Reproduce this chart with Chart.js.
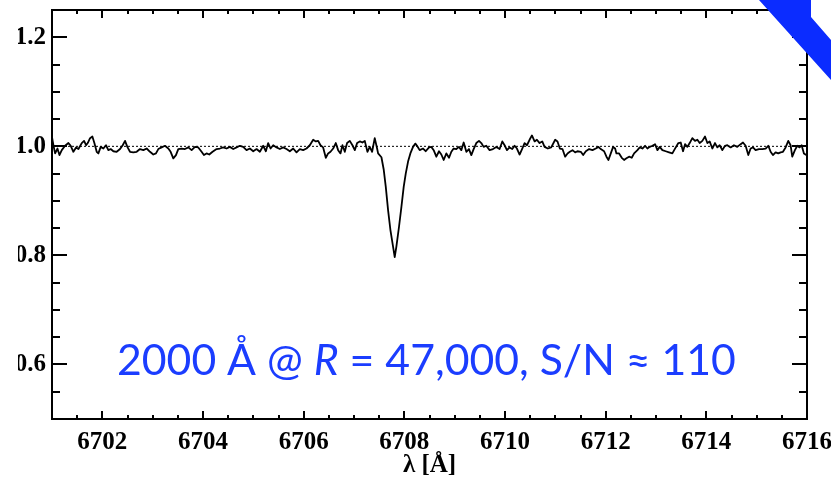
<!DOCTYPE html>
<html>
<head>
<meta charset="utf-8">
<script src="https://cdn.jsdelivr.net/npm/chart.js@4.4.1/dist/chart.umd.min.js"></script>
<style>
  html, body { margin: 0; padding: 0; background: #fff; }
  #wrap { position: relative; width: 831px; height: 482px; overflow: hidden; }
  #c { position: absolute; left: 0; top: 0; }
  #band {
    position: absolute; left: 0; top: 0; width: 831px; height: 482px;
    background: #0b2cff;
    clip-path: polygon(759px 0, 811px 0, 811px 17px, 831px 40px, 831px 80px);
  }
</style>
</head>
<body>
<div id="wrap">
  <canvas id="c" width="831" height="482"></canvas>
  <div id="band"></div>
</div>
<script>
// Li I 6708 region, normalised flux
const wavelength = [
  6701.000, 6701.028, 6701.062, 6701.108, 6701.148, 6701.194, 6701.260, 6701.326, 6701.372, 6701.425,
  6701.478, 6701.525, 6701.591, 6701.637, 6701.677, 6701.710, 6701.756, 6701.802, 6701.842, 6701.888,
  6701.921, 6701.968, 6702.021, 6702.073, 6702.120, 6702.166, 6702.219, 6702.285, 6702.352, 6702.405,
  6702.451, 6702.497, 6702.550, 6702.616, 6702.682, 6702.748, 6702.815, 6702.881, 6702.947, 6703.013,
  6703.066, 6703.112, 6703.178, 6703.245, 6703.311, 6703.357, 6703.410, 6703.463, 6703.509, 6703.575,
  6703.641, 6703.708, 6703.774, 6703.840, 6703.906, 6703.972, 6704.018, 6704.071, 6704.124, 6704.190,
  6704.270, 6704.336, 6704.402, 6704.468, 6704.534, 6704.601, 6704.667, 6704.733, 6704.799, 6704.865,
  6704.931, 6704.998, 6705.064, 6705.130, 6705.196, 6705.249, 6705.295, 6705.342, 6705.395, 6705.461,
  6705.527, 6705.593, 6705.659, 6705.725, 6705.792, 6705.858, 6705.924, 6705.990, 6706.056, 6706.122,
  6706.189, 6706.242, 6706.288, 6706.334, 6706.387, 6706.440, 6706.486, 6706.533, 6706.586, 6706.638,
  6706.685, 6706.731, 6706.771, 6706.817, 6706.863, 6706.916, 6706.969, 6707.016, 6707.062, 6707.115,
  6707.168, 6707.214, 6707.267, 6707.313, 6707.360, 6707.412, 6707.459, 6707.479, 6707.545, 6707.591,
  6707.631, 6707.677, 6707.723, 6707.776, 6707.809, 6707.842, 6707.895, 6707.942, 6707.988, 6708.028,
  6708.074, 6708.120, 6708.173, 6708.219, 6708.252, 6708.305, 6708.372, 6708.424, 6708.491, 6708.537,
  6708.583, 6708.636, 6708.689, 6708.735, 6708.782, 6708.835, 6708.888, 6708.934, 6708.980, 6709.033,
  6709.086, 6709.132, 6709.179, 6709.232, 6709.284, 6709.331, 6709.377, 6709.430, 6709.483, 6709.529,
  6709.576, 6709.628, 6709.694, 6709.761, 6709.827, 6709.893, 6709.946, 6709.992, 6710.039, 6710.091,
  6710.144, 6710.191, 6710.237, 6710.290, 6710.343, 6710.389, 6710.436, 6710.488, 6710.535, 6710.588,
  6710.634, 6710.687, 6710.740, 6710.786, 6710.852, 6710.918, 6710.997, 6711.043, 6711.090, 6711.142,
  6711.195, 6711.242, 6711.288, 6711.341, 6711.394, 6711.440, 6711.506, 6711.553, 6711.606, 6711.672,
  6711.738, 6711.804, 6711.857, 6711.903, 6711.969, 6712.016, 6712.055, 6712.102, 6712.148, 6712.188,
  6712.214, 6712.267, 6712.320, 6712.366, 6712.413, 6712.465, 6712.518, 6712.565, 6712.631, 6712.677,
  6712.730, 6712.783, 6712.829, 6712.876, 6712.929, 6712.981, 6713.028, 6713.074, 6713.127, 6713.193,
  6713.259, 6713.325, 6713.392, 6713.444, 6713.491, 6713.537, 6713.577, 6713.623, 6713.669, 6713.722,
  6713.775, 6713.822, 6713.868, 6713.921, 6713.974, 6714.020, 6714.066, 6714.119, 6714.172, 6714.218,
  6714.265, 6714.318, 6714.371, 6714.417, 6714.483, 6714.549, 6714.615, 6714.682, 6714.728, 6714.781,
  6714.834, 6714.880, 6714.927, 6714.979, 6715.045, 6715.112, 6715.178, 6715.231, 6715.277, 6715.323,
  6715.376, 6715.429, 6715.476, 6715.522, 6715.575, 6715.628, 6715.674, 6715.707, 6715.760, 6715.807,
  6715.853, 6715.893, 6715.939, 6715.985
];

const flux = [
  1.017, 1.002, 0.987, 0.996, 0.984, 0.993, 1.001, 1.006, 1.001, 0.990,
  0.998, 0.995, 1.006, 1.010, 1.002, 1.006, 1.015, 1.018, 1.006, 0.990,
  0.987, 0.999, 0.996, 1.002, 0.993, 0.995, 0.991, 0.990, 0.995, 1.002,
  1.010, 0.999, 0.990, 0.989, 0.990, 0.995, 0.993, 0.996, 0.990, 0.985,
  0.987, 0.995, 0.998, 1.001, 0.996, 0.990, 0.978, 0.984, 0.995, 0.996,
  0.995, 0.998, 0.993, 0.999, 0.998, 0.990, 0.984, 0.987, 0.985, 0.990,
  0.995, 0.996, 0.998, 0.996, 0.999, 0.995, 0.998, 1.001, 0.999, 0.993,
  0.996, 0.991, 0.995, 0.990, 1.001, 0.991, 1.006, 0.996, 1.002, 0.998,
  0.995, 0.998, 0.995, 0.991, 0.996, 0.989, 0.995, 0.993, 0.996, 1.002,
  1.012, 1.009, 1.010, 1.002, 0.998, 0.979, 0.987, 0.990, 0.996, 1.006,
  0.993, 0.987, 1.002, 0.990, 1.006, 1.010, 1.002, 0.993, 1.006, 1.009,
  1.007, 1.010, 0.990, 0.999, 0.990, 1.015, 0.996, 0.987, 0.980, 0.957,
  0.926, 0.883, 0.847, 0.816, 0.797, 0.816, 0.853, 0.889, 0.926, 0.950,
  0.972, 0.987, 0.999, 1.005, 1.001, 0.993, 0.996, 0.991, 0.998, 0.999,
  0.993, 0.981, 0.991, 0.985, 0.975, 0.987, 0.979, 0.990, 0.996, 0.995,
  0.999, 0.993, 1.007, 0.990, 0.995, 0.984, 0.995, 1.006, 1.010, 1.006,
  0.999, 1.001, 0.993, 0.995, 0.999, 0.995, 1.009, 1.002, 0.993, 0.998,
  0.995, 1.001, 0.996, 0.985, 0.996, 1.006, 1.002, 1.012, 1.020, 1.009,
  1.012, 1.006, 1.009, 0.999, 0.996, 0.998, 1.012, 1.009, 0.996, 0.995,
  0.981, 0.987, 0.990, 0.993, 0.989, 0.991, 0.990, 0.984, 0.991, 0.995,
  0.993, 0.996, 0.999, 0.995, 0.991, 0.981, 0.975, 0.987, 0.999, 0.996,
  0.987, 0.987, 0.979, 0.975, 0.978, 0.981, 0.979, 0.987, 0.993, 0.998,
  0.996, 1.001, 0.996, 0.999, 1.001, 1.004, 0.993, 0.999, 0.993, 0.991,
  0.989, 0.987, 0.998, 1.006, 1.007, 0.991, 1.004, 0.999, 1.006, 1.015,
  1.010, 1.012, 1.006, 1.010, 1.018, 1.006, 1.009, 0.996, 1.006, 0.998,
  1.002, 0.993, 1.001, 1.002, 0.998, 1.002, 0.999, 1.004, 1.007, 1.001,
  0.984, 0.996, 0.998, 0.993, 0.995, 0.995, 0.996, 1.001, 0.990, 0.984,
  0.989, 0.987, 0.989, 0.990, 0.998, 1.010, 1.002, 0.981, 0.993, 1.001,
  0.998, 1.002, 0.987, 0.984
];

const continuumLevel = 1.0;
const xRange = [6701, 6716];
const yRange = [0.5, 1.25];
const xTickLabels = [6702, 6704, 6706, 6708, 6710, 6712, 6714, 6716];
const yTickLabels = [0.6, 0.8, 1.0, 1.2];
const xMinorStep = 0.5;
const yMinorStep = 0.05;

const annotationParts = [
  { text: '2000 Å @ ', italic: false },
  { text: 'R', italic: true },
  { text: ' = 47,000, S/N ≈ 110', italic: false }
];

const serif = "'Liberation Serif', 'Times New Roman', serif";
const sans = "Lato, 'Open Sans', 'Noto Sans', sans-serif";

// Left edge of the page cuts into the y labels
const pageCrop = {
  id: 'pageCrop',
  beforeDraw(chart) {
    const ctx = chart.ctx;
    ctx.save();
    ctx.beginPath();
    ctx.rect(18, 0, chart.width, chart.height);
    ctx.clip();
  },
  afterDraw(chart) {
    chart.ctx.restore();
  }
};

// Boxed frame with inward major and minor ticks on all four sides
const frameTicks = {
  id: 'frameTicks',
  afterDraw(chart) {
    const { ctx, chartArea: a, scales: { x, y } } = chart;
    ctx.save();
    ctx.strokeStyle = '#000';
    ctx.lineWidth = 2;
    ctx.lineCap = 'butt';
    ctx.beginPath();
    ctx.rect(a.left, a.top, a.right - a.left, a.bottom - a.top);
    ctx.stroke();

    ctx.beginPath();
    const nx = Math.round((xRange[1] - xRange[0]) / xMinorStep);
    for (let i = 1; i < nx; i++) {
      const v = xRange[0] + i * xMinorStep;
      const major = xTickLabels.some(t => Math.abs(t - v) < 1e-6);
      const len = major ? 8 : 4;
      const px = Math.round(x.getPixelForValue(v));
      ctx.moveTo(px, a.bottom); ctx.lineTo(px, a.bottom - len);
      ctx.moveTo(px, a.top); ctx.lineTo(px, a.top + len);
    }
    const ny = Math.round((yRange[1] - yRange[0]) / yMinorStep);
    for (let i = 1; i < ny; i++) {
      const v = yRange[0] + i * yMinorStep;
      const major = yTickLabels.some(t => Math.abs(t - v) < 1e-6);
      const len = major ? 15 : 8;
      const py = Math.round(y.getPixelForValue(v));
      ctx.moveTo(a.left, py); ctx.lineTo(a.left + len, py);
      ctx.moveTo(a.right, py); ctx.lineTo(a.right - len, py);
    }
    ctx.stroke();
    ctx.restore();
  }
};

// Blue caption inside the plot
const caption = {
  id: 'caption',
  afterDraw(chart) {
    const ctx = chart.ctx;
    const targetLeft = 117, targetWidth = 619, baseline = 375;
    const fontFor = (part, size) => (part.italic ? 'italic ' : '') + size + 'px ' + sans;
    const measure = size => annotationParts.reduce((w, p) => {
      ctx.font = fontFor(p, size);
      return w + ctx.measureText(p.text).width;
    }, 0);
    const size = 40 * targetWidth / measure(40);
    ctx.save();
    ctx.fillStyle = '#1b3dff';
    ctx.textBaseline = 'alphabetic';
    ctx.textAlign = 'left';
    let xPos = targetLeft;
    for (const p of annotationParts) {
      ctx.font = fontFor(p, size);
      ctx.fillText(p.text, xPos, baseline);
      xPos += ctx.measureText(p.text).width;
    }
    ctx.restore();
  }
};

new Chart(document.getElementById('c'), {
  type: 'line',
  data: {
    datasets: [
      {
        data: wavelength.map((w, i) => ({ x: w, y: flux[i] })),
        borderColor: '#000',
        borderWidth: 1.8,
        pointRadius: 0,
        tension: 0,
        borderJoinStyle: 'round'
      },
      {
        data: xRange.map(w => ({ x: w, y: continuumLevel })),
        borderColor: '#000',
        borderWidth: 1,
        borderDash: [2, 2],
        pointRadius: 0
      }
    ]
  },
  options: {
    responsive: false,
    animation: false,
    events: [],
    layout: { padding: { left: 0, right: 24, top: 10, bottom: 0 } },
    plugins: { legend: { display: false }, tooltip: { enabled: false } },
    scales: {
      x: {
        type: 'linear',
        min: xRange[0],
        max: xRange[1],
        grid: { display: false, drawTicks: false },
        border: { display: false },
        afterBuildTicks: s => { s.ticks = xTickLabels.map(v => ({ value: v })); },
        afterFit: s => { s.height = 63; s.paddingLeft = 0; s.paddingRight = 0; },
        ticks: {
          autoSkip: false,
          maxRotation: 0,
          padding: 9,
          color: '#000',
          font: { family: serif, weight: 'bold', size: 25 },
          callback: v => String(v)
        },
        title: {
          display: true,
          text: 'λ [Å]',
          color: '#000',
          padding: { top: 0, bottom: 1 },
          font: { family: serif, weight: 'bold', size: 25 }
        }
      },
      y: {
        type: 'linear',
        min: yRange[0],
        max: yRange[1],
        grid: { display: false, drawTicks: false },
        border: { display: false },
        afterBuildTicks: s => { s.ticks = yTickLabels.map(v => ({ value: v })); },
        afterFit: s => { s.width = 52; s.paddingTop = 0; s.paddingBottom = 0; },
        ticks: {
          padding: 6,
          color: '#000',
          font: { family: serif, weight: 'bold', size: 25 },
          callback: v => Number(v).toFixed(1)
        }
      }
    }
  },
  plugins: [pageCrop, frameTicks, caption]
});
</script>
</body>
</html>
